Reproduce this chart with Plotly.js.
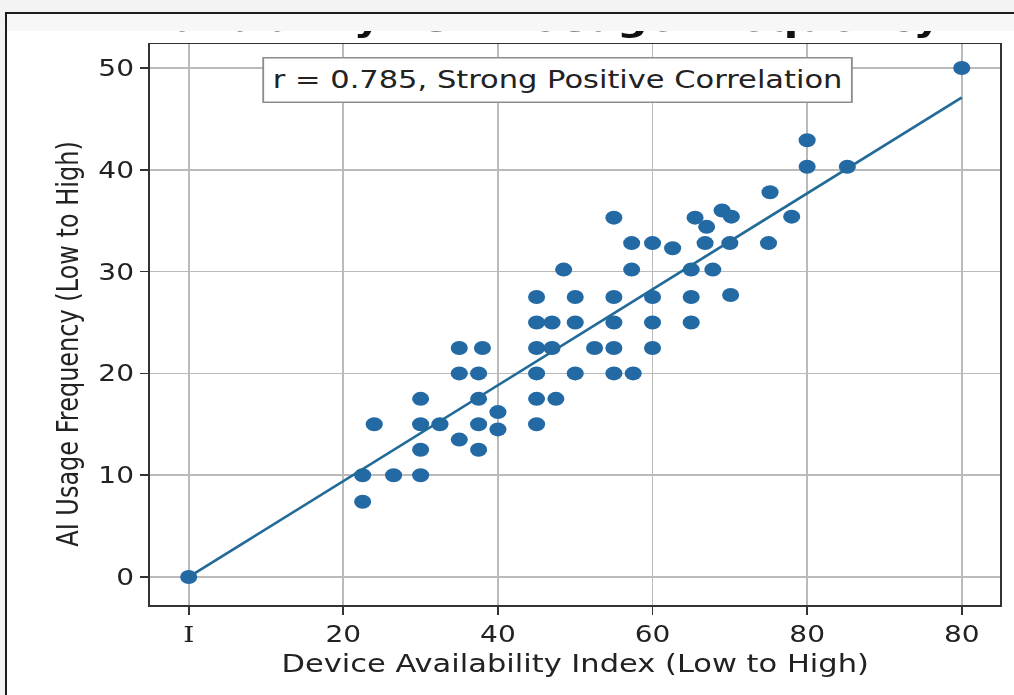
<!DOCTYPE html>
<html>
<head>
<meta charset="utf-8">
<script src="https://cdn.plot.ly/plotly-3.0.1.min.js"></script>
<style>
html,body{margin:0;padding:0;width:1014px;height:695px;overflow:hidden;background:#f3f3f3;}
#frame{position:absolute;left:5px;top:12px;width:1030px;height:700px;border:2px solid #1c1c1c;background:#ffffff;}
#band{position:absolute;left:0;top:0;width:100%;height:17px;background:#f7f7f7;}
#chart{position:absolute;left:0;top:31px;width:831px;height:664px;transform:scaleX(1.22);transform-origin:0 0;}
</style>
</head>
<body>
<div id="frame"><div id="band"></div></div>
<div id="chart"></div>
<script>
// Device Availability Index (x) vs AI Usage Frequency (y)
const deviceIndex = [0, 22.5, 22.5, 24, 26.5, 30, 30, 30, 30, 32.5, 35, 35, 35, 37.5, 37.5, 37.5, 37.5, 38, 40, 40,
  45, 45, 45, 45, 45, 45, 47, 47, 47.5, 48.5, 50, 50, 50, 52.5, 55, 55, 55, 55, 55, 57.5,
  57.3, 57.3, 60, 60, 60, 60, 62.6, 65, 65, 65, 65.5, 66.8, 67, 67.8, 69, 70.2, 70, 70.1, 75, 75.2,
  78, 80, 80, 85.2, 100];
const aiUsage = [0, 7.4, 10, 15, 10, 10, 12.5, 15, 17.5, 15, 13.5, 20, 22.5, 12.5, 15, 17.5, 20, 22.5, 16.2, 14.5,
  15, 17.5, 20, 22.5, 25, 27.5, 22.5, 25, 17.5, 30.2, 20, 25, 27.5, 22.5, 20, 22.5, 25, 27.5, 35.3, 20,
  30.2, 32.8, 22.5, 25, 27.5, 32.8, 32.3, 25, 27.5, 30.2, 35.3, 32.8, 34.4, 30.2, 36, 35.4, 32.8, 27.7, 32.8, 37.8,
  35.4, 40.3, 42.9, 40.3, 50];
const fitX = [0, 100];
const fitY = [0, 47.1];
const xTickVals = [0, 20, 40, 60, 80, 100];
const xTickText = ['<span style="font-family:DejaVu Serif">I</span>', '20', '40', '60', '80', '80'];
const yTickVals = [0, 10, 20, 30, 40, 50];
const chartTitle = 'Availability vs AI Usage Frequency';
const xTitle = 'Device Availability Index (Low to High)';
const yTitle = 'AI Usage Frequency (Low to High)';
const corrText = 'r = 0.785, Strong Positive Correlation';

const font = 'DejaVu Sans, sans-serif';
const txt = '#222222';
const traces = [
  {x: deviceIndex, y: aiUsage, type: 'scatter', mode: 'markers',
   marker: {color: '#2369a4', size: 14}, hoverinfo: 'skip', showlegend: false},
  {x: fitX, y: fitY, type: 'scatter', mode: 'lines',
   line: {color: '#226a98', width: 2.5}, hoverinfo: 'skip', showlegend: false}
];
const layout = {
  width: 831, height: 664,
  margin: {l: 123, r: 11, t: 13, b: 90},
  paper_bgcolor: 'rgba(0,0,0,0)', plot_bgcolor: '#ffffff',
  font: {family: font, color: txt},
  showlegend: false,
  xaxis: {range: [-5, 105], tickvals: xTickVals, ticktext: xTickText,
    showgrid: true, gridcolor: '#bababa', gridwidth: 1.5, zeroline: false,
    showline: true, mirror: true, linecolor: '#333333', linewidth: 1.5,
    ticks: 'outside', ticklen: 8, tickwidth: 1.5, tickcolor: '#333333',
    tickfont: {size: 23, family: font, color: txt},
    title: {text: xTitle, font: {size: 25, family: font, color: txt}, standoff: 8}},
  yaxis: {range: [-2.75, 52.36], tickvals: yTickVals,
    showgrid: true, gridcolor: '#bababa', gridwidth: 1.5, zeroline: false,
    showline: true, mirror: true, linecolor: '#333333', linewidth: 1.5,
    ticks: 'outside', ticklen: 7, tickwidth: 1.5, tickcolor: '#333333',
    tickfont: {size: 23, family: font, color: txt}},
  annotations: [
    {text: corrText, xref: 'x', yref: 'y', x: 47.7, y: 48.8, showarrow: false,
     font: {size: 25, family: font, color: txt}, bgcolor: '#ffffff',
     bordercolor: '#8c8c8c', borderwidth: 1.5, borderpad: 7},
    {text: yTitle, xref: 'paper', yref: 'paper', x: -0.0966, y: 0.465, textangle: -90,
     xanchor: 'center', yanchor: 'middle', showarrow: false,
     font: {size: 24, family: font, color: txt}},
    {text: chartTitle, xref: 'x', yref: 'paper', x: 43.7, y: 1, yanchor: 'bottom', yshift: 3, showarrow: false,
     font: {size: 35, family: font, color: '#111111', weight: 'bold'}}
  ]
};
Plotly.newPlot('chart', traces, layout, {staticPlot: true, displayModeBar: false});
</script>
</body>
</html>
